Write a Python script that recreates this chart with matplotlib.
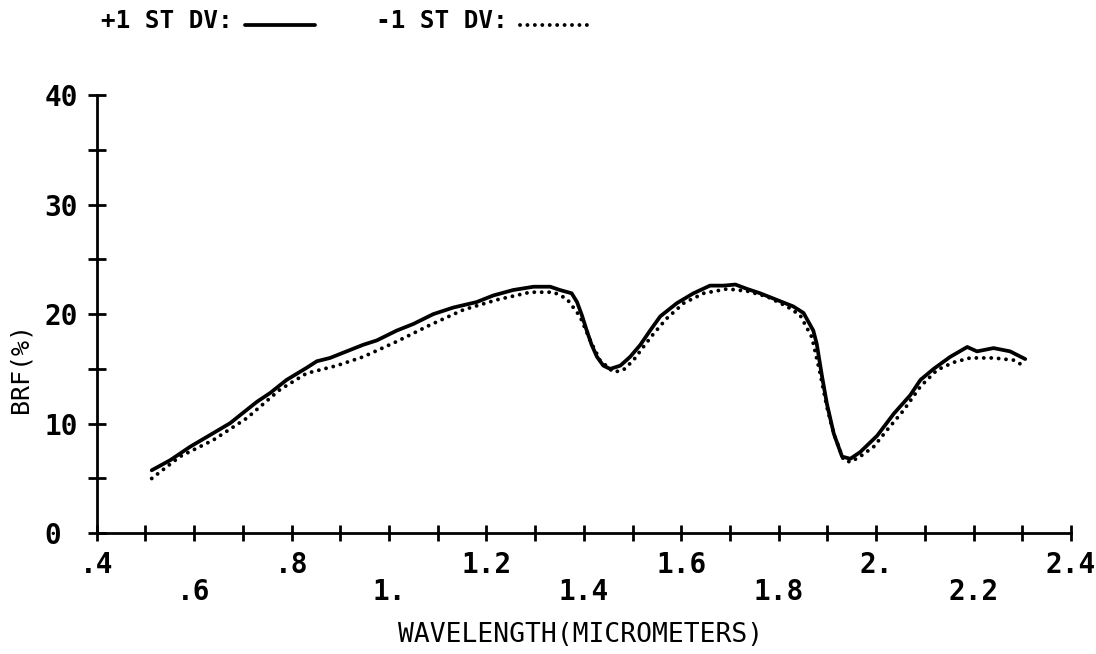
import matplotlib
matplotlib.use('Agg')
import matplotlib.pyplot as plt
from matplotlib.ticker import FixedLocator, FixedFormatter
from matplotlib.legend_handler import HandlerLine2D

# ---- data ----
wl_plus = [0.513, 0.551, 0.592, 0.639, 0.674, 0.708, 0.729, 0.756, 0.790, 0.831,
           0.852, 0.879, 0.913, 0.947, 0.975, 1.016, 1.050, 1.091, 1.132, 1.180,
           1.214, 1.255, 1.297, 1.331, 1.351, 1.375, 1.386, 1.396, 1.406, 1.416,
           1.427, 1.440, 1.454, 1.475, 1.495, 1.516, 1.536, 1.557, 1.591, 1.625,
           1.659, 1.687, 1.711, 1.735, 1.762, 1.796, 1.830, 1.851, 1.871, 1.878,
           1.889, 1.899, 1.913, 1.930, 1.947, 1.967, 2.002, 2.036, 2.070, 2.091,
           2.118, 2.152, 2.187, 2.207, 2.241, 2.275, 2.306]
brf_plus = [5.75, 6.67, 7.9, 9.13, 10.05, 11.26, 12.0, 12.8, 14.0, 15.1,
            15.7, 16.0, 16.6, 17.2, 17.6, 18.5, 19.1, 20.0, 20.6, 21.1,
            21.7, 22.2, 22.5, 22.5, 22.2, 21.9, 21.1, 19.9, 18.5, 17.2,
            16.1, 15.3, 15.0, 15.3, 16.1, 17.2, 18.5, 19.8, 21.0, 21.9,
            22.6, 22.6, 22.7, 22.3, 21.9, 21.3, 20.7, 20.1, 18.5, 17.3,
            14.3, 11.8, 9.1, 7.0, 6.8, 7.4, 8.9, 10.9, 12.6, 14.0,
            15.0, 16.1, 17.0, 16.6, 16.9, 16.6, 15.9]

wl_minus = [0.513, 0.571, 0.639, 0.708, 0.776, 0.831, 0.893, 0.947, 1.016, 1.084,
            1.153, 1.221, 1.290, 1.338, 1.365, 1.392, 1.413, 1.433, 1.461, 1.481,
            1.502, 1.522, 1.543, 1.570, 1.605, 1.646, 1.694, 1.735, 1.776, 1.817,
            1.844, 1.868, 1.885, 1.899, 1.913, 1.933, 1.947, 1.967, 1.995, 2.022,
            2.056, 2.091, 2.125, 2.159, 2.193, 2.241, 2.282, 2.306]
brf_minus = [5.0, 7.0, 8.5, 10.5, 13.1, 14.6, 15.3, 16.1, 17.5, 19.0,
             20.4, 21.3, 22.0, 22.0, 21.4, 19.8, 17.6, 15.8, 14.7, 14.9,
             15.8, 17.0, 18.2, 19.6, 21.0, 21.9, 22.3, 22.1, 21.6, 20.7,
             19.9, 17.9, 14.6, 11.5, 9.1, 6.7, 6.5, 7.0, 7.9, 9.4,
             11.2, 13.4, 14.9, 15.6, 16.0, 16.0, 15.8, 15.2]

series_labels = ['+1 ST DV:', '-1 ST DV:']

x_tick_vals = [0.4, 0.5, 0.6, 0.7, 0.8, 0.9, 1.0, 1.1, 1.2, 1.3, 1.4,
               1.5, 1.6, 1.7, 1.8, 1.9, 2.0, 2.1, 2.2, 2.3, 2.4]
upper_tick_vals = [0.4, 0.8, 1.2, 1.6, 2.0, 2.4]
upper_tick_labels = ['.4', '.8', '1.2', '1.6', '2.', '2.4']
lower_tick_vals = [0.6, 1.0, 1.4, 1.8, 2.2]
lower_tick_labels = ['.6', '1.', '1.4', '1.8', '2.2']
y_tick_vals = [0, 10, 20, 30, 40]
y_tick_labels = ['0', '10', '20', '30', '40']
y_minor_vals = [5, 15, 25, 35]

x_label = 'WAVELENGTH(MICROMETERS)'
y_label = 'BRF(%)'

# ---- figure ----
FONT = 'DejaVu Sans Mono'
fig = plt.figure(figsize=(10.96, 6.54), dpi=100)
ax = fig.add_axes([0.0882, 0.1846, 0.889, 0.6702])

l1, = ax.plot(wl_plus, brf_plus, color='black', lw=2.7,
              solid_capstyle='round', solid_joinstyle='round', label=series_labels[0])
l2, = ax.plot(wl_minus, brf_minus, color='black', lw=2.8,
              linestyle=(0, (0.01, 1.9)), dash_capstyle='round', label=series_labels[1])

ax.set_xlim(0.4, 2.4)
ax.set_ylim(0, 40)
for s in ('top', 'right'):
    ax.spines[s].set_visible(False)
for s in ('left', 'bottom'):
    ax.spines[s].set_linewidth(2.0)

# x ticks: marks every 0.1, labels in two staggered rows
upper_map = dict(zip(upper_tick_vals, upper_tick_labels))
major_lbls = [upper_map.get(round(v, 1), '') for v in x_tick_vals]
ax.xaxis.set_major_locator(FixedLocator(x_tick_vals))
ax.xaxis.set_major_formatter(FixedFormatter(major_lbls))
ax.xaxis.set_minor_locator(FixedLocator(lower_tick_vals))
ax.xaxis.set_minor_formatter(FixedFormatter(lower_tick_labels))
ax.xaxis.remove_overlapping_locs = False
ax.tick_params(axis='x', which='major', direction='inout', length=11.5, width=2.0,
               pad=7.2, labelsize=20)
ax.tick_params(axis='x', which='minor', direction='inout', length=0, width=0,
               pad=32.5, labelsize=20)

# y ticks
ax.yaxis.set_major_locator(FixedLocator(y_tick_vals))
ax.yaxis.set_major_formatter(FixedFormatter(y_tick_labels))
ax.yaxis.set_minor_locator(FixedLocator(y_minor_vals))
ax.tick_params(axis='y', which='both', direction='inout', length=13, width=2.0,
               pad=31.0, labelsize=20)

for lbl in ax.get_xticklabels(which='both') + ax.get_yticklabels():
    lbl.set_fontfamily(FONT)
    lbl.set_fontweight('bold')
for lbl in ax.get_yticklabels():
    lbl.set_ha('left')

ax.set_xlabel(x_label, fontfamily=FONT, fontsize=19)
ax.xaxis.set_label_coords(0.497, -0.202)
ax.set_ylabel(y_label, fontfamily=FONT, fontsize=18)
ax.yaxis.set_label_coords(-0.0654, 0.377)


class BaselineLine(HandlerLine2D):
    """Legend sample drawn on the text baseline, like the plotter output."""
    def create_artists(self, legend, orig_handle, xdescent, ydescent,
                       width, height, fontsize, trans):
        return super().create_artists(legend, orig_handle, xdescent,
                                      ydescent + 9, width, height, fontsize, trans)


fig.legend(handles=[l1, l2], labels=series_labels, loc='upper left',
           bbox_to_anchor=(0.092, 0.987), ncol=2, frameon=False, markerfirst=False,
           handlelength=2.9, handletextpad=0.5, columnspacing=2.5,
           borderpad=0, borderaxespad=0,
           handler_map={l1: BaselineLine(), l2: BaselineLine()},
           prop={'family': FONT, 'weight': 'bold', 'size': 17.5})

fig.savefig('out.png', dpi=100)
